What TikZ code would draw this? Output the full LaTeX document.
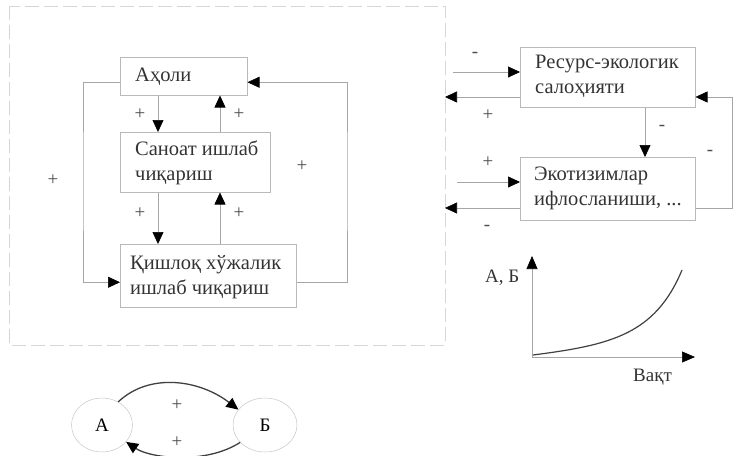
\documentclass[tikz,border=0pt]{standalone}
\usepackage{fontspec}
\setmainfont{Liberation Serif}
\usetikzlibrary{arrows.meta,shapes.geometric}

\tikzset{
  box/.style={draw=gray!55, line width=0.5pt, rectangle, anchor=north west,
    inner sep=0pt},
  txt/.style={anchor=west, align=left, inner sep=0pt,
    font=\fontsize{20.5}{25}\selectfont, text=black!80},
  arr/.style={draw=gray!70, line width=0.6pt,
    -{Triangle[length=12pt,width=11pt,black]}},
  sign/.style={font=\fontsize{19}{22}\selectfont, text=black!70, inner sep=0pt},
  axis/.style={draw=gray!70, line width=0.6pt,
    -{Triangle[length=13pt,width=11pt,black]}},
  curvearr/.style={draw=black!75, line width=1.3pt,
    -{Triangle[length=12pt,width=11pt,black]}},
  circ/.style={draw=gray!45, line width=0.5pt, ellipse, inner sep=0pt,
    font=\fontsize{19}{22}\selectfont},
  lbl/.style={font=\fontsize{19}{22}\selectfont, text=black!80, inner sep=0pt},
  frame/.style={draw=gray!32, line width=0.6pt, dash pattern=on 14pt off 5pt}
}

\begin{document}
\begin{tikzpicture}[x=1pt,y=-1pt]
  \useasboundingbox (0,0) rectangle (733,455);

  % dashed frame around the production block
  \draw[frame] (9,6) rectangle (445,345);

  % production blocks
  \node[box, minimum width=127pt, minimum height=38pt] (ahol) at (120,57) {};
  \node[box, minimum width=150pt, minimum height=60pt] (san) at (120,132) {};
  \node[box, minimum width=176pt, minimum height=63pt] (qish) at (120,244) {};
  \node[txt] (ahol-t) at ([xshift=15pt]ahol.west) {Аҳоли};
  \node[txt] (san-t) at ([xshift=15pt,yshift=-1pt]san.west) {Саноат ишлаб\\чиқариш};
  \node[txt] (qish-t) at ([xshift=10pt,yshift=-1pt]qish.west) {Қишлоқ хўжалик\\ишлаб чиқариш};

  % links between the blocks
  \draw[arr] ([xshift=38pt]ahol.south west) -- ([xshift=38pt]san.north west);
  \draw[arr] ([xshift=100pt]san.north west) -- ([xshift=100pt]ahol.south west);
  \draw[arr] ([xshift=38pt]san.south west) -- ([xshift=38pt]qish.north west);
  \draw[arr] ([xshift=100pt]qish.north west) -- ([xshift=100pt]san.south west);

  % outer loops
  \coordinate (lx) at (83,180);
  \coordinate (rx) at (347,180);
  \draw[arr] ([yshift=-6pt]ahol.west) -| (lx) |- ([yshift=-6.5pt]qish.west);
  \draw[arr] ([yshift=-6.5pt]qish.east) -| (rx) |- ([yshift=-6pt]ahol.east);

  % signs
  \node[sign] (p1) at (140,114) {+};
  \node[sign] (p2) at (239,114) {+};
  \node[sign] (p3) at (140,213) {+};
  \node[sign] (p4) at (239,213) {+};
  \node[sign] (p5) at (53,180) {+};
  \node[sign] (p6) at (302,166) {+};

  % resource / ecosystem blocks
  \node[box, minimum width=175pt, minimum height=60pt] (res) at (520,47) {};
  \node[box, minimum width=175pt, minimum height=63pt] (eko) at (520,157) {};
  \node[txt] (res-t) at ([xshift=15pt,yshift=1pt]res.west) {Ресурс-экологик\\салоҳияти};
  \node[txt] (eko-t) at ([xshift=14pt]eko.west) {Экотизимлар\\ифлосланиши, ...};

  \coordinate (in1) at (453,72);
  \coordinate (out1) at (445,97);
  \coordinate (in2) at (457,182);
  \coordinate (out2) at (445,208);
  \coordinate (ry) at (732,150);

  \draw[arr] (in1) -- (in1 -| res.west);
  \draw[arr] (res.west |- out1) -- (out1);
  \draw[arr] (in2) -- (in2 -| eko.west);
  \draw[arr] (eko.west |- out2) -- (out2);
  \draw[arr] ([xshift=125pt]res.south west) -- ([xshift=125pt]eko.north west);
  \draw[arr] (eko.east |- out2) -| (ry) |- (res.east |- out1);

  \node[sign] (m1) at (475,55) {-};
  \node[sign] (p7) at (488,115) {+};
  \node[sign] (p8) at (488,162) {+};
  \node[sign] (m2) at (487,228) {-};
  \node[sign] (m3) at (662,128) {-};
  \node[sign] (m4) at (710,153) {-};

  % growth chart
  \coordinate (o) at (532,357);
  \coordinate (ytop) at (532,256);
  \coordinate (xend) at (695,357);
  \draw[axis] (o) -- (ytop);
  \draw[axis] (o) -- (xend);
  \draw[draw=black!75, line width=1.2pt]
    (533,355) .. controls (610,345) and (655,335) .. (682,270);
  \node[lbl, anchor=west] (ab) at (485,278) {А, Б};
  \node[lbl, anchor=west] (vaqt) at (633,377) {Вақт};

  % two-element feedback
  \node[circ, minimum width=61pt, minimum height=54pt] (A) at (102,425) {А};
  \node[circ, minimum width=64pt, minimum height=54pt] (B) at (265,425) {Б};
  \draw[curvearr] (A.55) .. controls (150,372) and (200,380) .. (B.150);
  \draw[curvearr] (B.215) .. controls (205,465) and (150,458) .. (A.325);
  \node[sign] (p9) at (177,405) {+};
  \node[sign] (p10) at (177,442) {+};
\end{tikzpicture}
\end{document}
